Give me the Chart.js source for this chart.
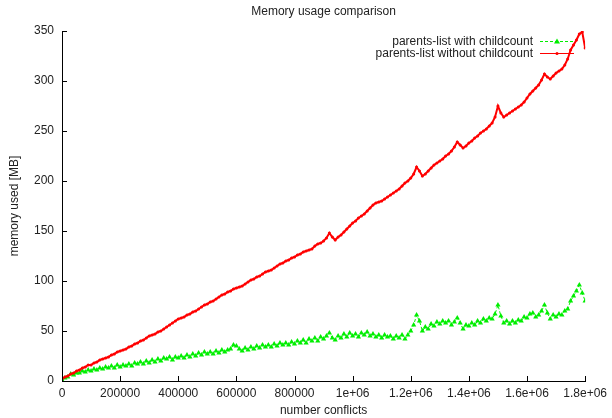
<!DOCTYPE html>
<html>
<head>
<meta charset="utf-8">
<title>Memory usage comparison</title>
<script src="https://cdn.jsdelivr.net/npm/chart.js@4"></script>
<style>
  html, body { margin: 0; padding: 0; background: #fff; }
</style>
</head>
<body>
<canvas id="memChart" width="612" height="418"></canvas>
<script>
// number of conflicts (x values)
const conflicts = [
  0, 10000, 20000, 30000, 40000, 50000, 60000, 70000, 80000, 90000,
  100000, 110000, 120000, 130000, 140000, 150000, 160000, 170000, 180000, 190000,
  200000, 210000, 220000, 230000, 240000, 250000, 260000, 270000, 280000, 290000,
  300000, 310000, 320000, 330000, 340000, 350000, 360000, 370000, 380000, 390000,
  400000, 410000, 420000, 430000, 440000, 450000, 460000, 470000, 480000, 490000,
  500000, 510000, 520000, 530000, 540000, 550000, 560000, 570000, 580000, 590000,
  600000, 610000, 620000, 630000, 640000, 650000, 660000, 670000, 680000, 690000,
  700000, 710000, 720000, 730000, 740000, 750000, 760000, 770000, 780000, 790000,
  800000, 810000, 820000, 830000, 840000, 850000, 860000, 870000, 880000, 890000,
  900000, 910000, 920000, 930000, 940000, 950000, 960000, 970000, 980000, 990000,
  1000000, 1010000, 1020000, 1030000, 1040000, 1050000, 1060000, 1070000, 1080000, 1090000,
  1100000, 1110000, 1120000, 1130000, 1140000, 1150000, 1160000, 1170000, 1180000, 1190000,
  1200000, 1210000, 1220000, 1230000, 1240000, 1250000, 1260000, 1270000, 1280000, 1290000,
  1300000, 1310000, 1320000, 1330000, 1340000, 1350000, 1360000, 1370000, 1380000, 1390000,
  1400000, 1410000, 1420000, 1430000, 1440000, 1450000, 1460000, 1470000, 1480000, 1490000,
  1500000, 1510000, 1520000, 1530000, 1540000, 1550000, 1560000, 1570000, 1580000, 1590000,
  1600000, 1610000, 1620000, 1630000, 1640000, 1650000, 1660000, 1670000, 1680000, 1690000,
  1700000, 1710000, 1720000, 1730000, 1740000, 1750000, 1760000, 1770000, 1780000, 1790000,
  1800000
];

// memory used [MB], parents-list with childcount
const withChildcount = [
  1, 3, 4, 7, 6, 8, 8, 10, 9, 11,
  10, 12, 11, 13, 12, 14, 13, 15, 13, 16,
  14, 16, 15, 17, 15, 18, 17, 19, 17, 20,
  18, 21, 19, 22, 20, 23, 22, 24, 21, 24,
  23, 25, 23, 26, 24, 27, 25, 28, 26, 29,
  27, 29, 27, 30, 28, 31, 29, 31, 32, 36,
  35, 32, 30, 33, 31, 34, 32, 35, 33, 36,
  34, 36, 34, 37, 35, 38, 36, 38, 36, 39,
  37, 40, 38, 41, 38, 42, 40, 43, 40, 44,
  42, 45, 48, 43, 41, 45, 43, 47, 44, 48,
  45, 47, 44, 48, 46, 49, 45, 47, 44, 46,
  43, 46, 44, 45, 42, 45, 43, 46, 42, 46,
  50, 56, 66, 60, 50, 54, 52, 57, 55, 59,
  57, 60, 58, 60, 56, 59, 63, 58, 52, 56,
  55, 58, 56, 60, 58, 62, 60, 63, 62, 67,
  76, 65, 58, 60, 57, 60, 58, 61, 60, 64,
  63, 67, 68, 64, 66, 70, 76, 68, 62, 66,
  64, 67, 66, 70, 72, 80, 85, 90, 96, 88,
  80
];

// memory used [MB], parents-list without childcount
const withoutChildcount = [
  2, 4, 5, 7, 8, 10, 11, 13, 14, 16,
  16, 18, 19, 21, 22, 23, 24, 26, 27, 29,
  30, 31, 32, 34, 35, 37, 38, 40, 41, 43,
  45, 46, 47, 49, 50, 52, 54, 56, 58, 60,
  62, 63, 64, 66, 67, 69, 70, 72, 74, 76,
  77, 79, 80, 82, 84, 86, 87, 89, 90, 92,
  93, 94, 95, 97, 99, 101, 102, 104, 105, 107,
  109, 110, 111, 113, 115, 117, 118, 120, 121, 123,
  124, 126, 127, 129, 130, 131, 132, 135, 137, 138,
  140, 143, 148, 144, 141, 144, 146, 149, 152, 155,
  158, 160, 163, 165, 167, 170, 173, 176, 178, 179,
  180, 182, 184, 186, 188, 190, 192, 195, 198, 200,
  203, 207, 214, 210, 205, 207, 210, 213, 216, 218,
  220, 222, 225, 227, 230, 234, 239, 236, 233, 235,
  238, 240, 243, 245, 248, 250, 252, 255, 258, 264,
  275, 268, 264, 266, 268, 270, 272, 274, 276, 279,
  283, 287, 290, 293, 296, 301, 307, 304, 302, 305,
  308, 310, 312, 316, 322, 331, 336, 341, 347, 349,
  333
];

const xTickLabels = ["0", "200000", "400000", "600000", "800000", "1e+06", "1.2e+06", "1.4e+06", "1.6e+06", "1.8e+06"];
const xTickValues = [0, 200000, 400000, 600000, 800000, 1000000, 1200000, 1400000, 1600000, 1800000];
const yTicks = [0, 50, 100, 150, 200, 250, 300, 350];

const FONT = "'Liberation Sans', Arial, Helvetica, sans-serif";
const FONT_SIZE = 12;
const TEXT_COLOR = "#222";
const GREEN = "#00ee00";
const RED = "#ff0000";

const toPoints = (ys) => conflicts.map((x, i) => ({ x: x, y: ys[i] }));

// gnuplot-style decorations: inward ticks, titles, legend
const gnuplotDecor = {
  id: "gnuplotDecor",
  afterDraw(chart) {
    const { ctx, chartArea, scales } = chart;
    ctx.save();
    ctx.strokeStyle = "#000";
    ctx.lineWidth = 1;
    scales.y.ticks.forEach(t => {
      const py = Math.round(scales.y.getPixelForValue(t.value)) + 0.5;
      ctx.beginPath();
      ctx.moveTo(chartArea.left, py);
      ctx.lineTo(chartArea.left + 5, py);
      ctx.stroke();
    });
    scales.x.ticks.forEach(t => {
      const px = Math.round(scales.x.getPixelForValue(t.value)) + 0.5;
      ctx.beginPath();
      ctx.moveTo(px, chartArea.bottom);
      ctx.lineTo(px, chartArea.bottom - 5);
      ctx.stroke();
    });

    ctx.fillStyle = TEXT_COLOR;
    ctx.font = FONT_SIZE + "px " + FONT;
    ctx.textAlign = "center";
    ctx.textBaseline = "middle";
    const cx = (chartArea.left + chartArea.right) / 2;
    ctx.fillText("Memory usage comparison", cx, 12);
    ctx.fillText("number conflicts", cx, 411);
    ctx.save();
    ctx.translate(15, 206);
    ctx.rotate(-Math.PI / 2);
    ctx.fillText("memory used [MB]", 0, 0);
    ctx.restore();

    // legend (text on the left, sample on the right, like gnuplot)
    const rows = [
      { label: "parents-list with childcount", color: GREEN, dash: [3, 2], marker: "triangle", y: 41.5 },
      { label: "parents-list without childcount", color: RED, dash: [], marker: "dot", y: 53.5 }
    ];
    ctx.textAlign = "right";
    rows.forEach(r => {
      ctx.fillStyle = TEXT_COLOR;
      ctx.fillText(r.label, 533, r.y);
      ctx.strokeStyle = r.color;
      ctx.lineWidth = 1.2;
      ctx.setLineDash(r.dash);
      ctx.beginPath();
      ctx.moveTo(540, r.y);
      ctx.lineTo(574, r.y);
      ctx.stroke();
      ctx.setLineDash([]);
      ctx.fillStyle = r.color;
      ctx.beginPath();
      if (r.marker === "triangle") {
        ctx.moveTo(557, r.y - 3);
        ctx.lineTo(560, r.y + 2);
        ctx.lineTo(554, r.y + 2);
        ctx.closePath();
      } else {
        ctx.arc(557, r.y, 1.5, 0, Math.PI * 2);
      }
      ctx.fill();
    });
    ctx.restore();
  }
};

const ctxMem = document.getElementById("memChart").getContext("2d");
new Chart(ctxMem, {
  type: "line",
  data: {
    datasets: [
      {
        label: "parents-list with childcount",
        data: toPoints(withChildcount),
        borderColor: GREEN,
        backgroundColor: GREEN,
        borderWidth: 1,
        borderDash: [3, 2],
        pointStyle: "triangle",
        pointRadius: 3,
        pointBorderWidth: 0,
        order: 1
      },
      {
        label: "parents-list without childcount",
        data: toPoints(withoutChildcount),
        borderColor: RED,
        backgroundColor: RED,
        borderWidth: 2,
        pointStyle: "circle",
        pointRadius: 1.5,
        pointBorderWidth: 0,
        order: 0
      }
    ]
  },
  options: {
    responsive: false,
    animation: false,
    layout: { padding: { top: 31, right: 24, bottom: 0, left: 0 } },
    plugins: {
      legend: { display: false },
      title: { display: false },
      tooltip: { enabled: false }
    },
    scales: {
      x: {
        type: "linear",
        min: 0,
        max: 1800000,
        afterFit: (scale) => { scale.height = 37; },
        afterBuildTicks: (scale) => {
          scale.ticks = xTickValues.map(v => ({ value: v }));
        },
        ticks: {
          padding: 5,
          maxRotation: 0,
          autoSkip: false,
          color: TEXT_COLOR,
          font: { family: FONT, size: FONT_SIZE },
          callback: (v, i) => xTickLabels[i]
        },
        grid: { display: true, drawOnChartArea: false, drawTicks: false },
        border: { display: true, color: "#000", width: 1 }
      },
      y: {
        type: "linear",
        min: 0,
        max: 350,
        afterFit: (scale) => { scale.width = 62; },
        afterBuildTicks: (scale) => {
          scale.ticks = yTicks.map(v => ({ value: v }));
        },
        ticks: {
          padding: 8,
          color: TEXT_COLOR,
          font: { family: FONT, size: FONT_SIZE }
        },
        grid: { display: true, drawOnChartArea: false, drawTicks: false },
        border: { display: true, color: "#000", width: 1 }
      }
    }
  },
  plugins: [gnuplotDecor]
});
</script>
</body>
</html>
